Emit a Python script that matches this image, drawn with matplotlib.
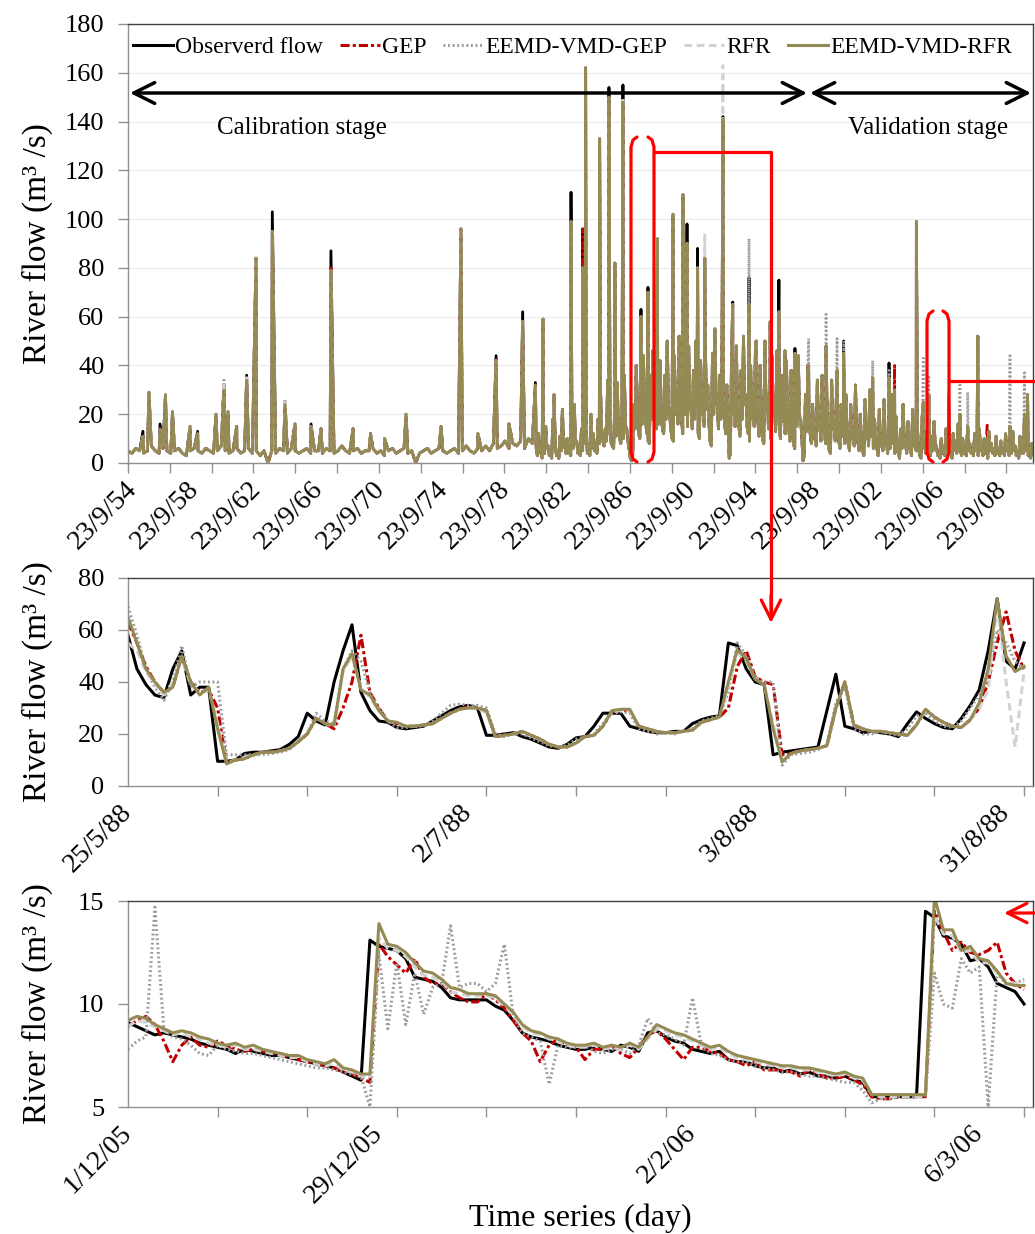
import numpy as np
import matplotlib
matplotlib.use("Agg")
import matplotlib.pyplot as plt

plt.rcParams['font.family'] = ['Liberation Serif', 'DejaVu Serif']

# ---------------------------------------------------------------- DATA
series_names = ['Observerd flow', 'GEP', 'EEMD-VMD-GEP', 'RFR', 'EEMD-VMD-RFR']

# --- top panel (whole record); x = years since 23/9/54
top_tick_labels = ['23/9/54', '23/9/58', '23/9/62', '23/9/66', '23/9/70', '23/9/74',
                   '23/9/78', '23/9/82', '23/9/86', '23/9/90', '23/9/94', '23/9/98',
                   '23/9/02', '23/9/06', '23/9/08']
# quiet period, quarter-year samples of the common baseline
quiet_flow = [5, 4, 6, 5, 4, 5, 7, 5, 4, 6,
              5, 4, 5, 6, 4, 3, 5, 6, 5, 4,
              6, 5, 4, 5, 7, 5, 4, 5, 6, 4,
              5, 6, 4, 5, 3, 5, 0, 5, 4, 6,
              5, 4, 6, 5, 4, 5, 6, 4, 5, 5,
              4, 6, 5, 4, 5, 7, 5, 4, 5, 6,
              4, 5, 5, 6, 4, 5, 3, 5, 6, 4,
              5, 6, 4, 5, 0, 4, 5, 6, 4, 5,
              6, 5, 4, 5, 6, 4, 5, 7, 5, 4,
              6, 5, 7, 5, 8, 6, 7, 9, 6, 8,
              7, 9, 6, 10, 8]
# busy period (1981-2012), dense samples of the common band
busy_flow = [6, 3, 12, 5, 4, 2, 9, 4, 15, 6, 7, 3, 5, 2, 18, 6, 8, 3, 4, 2, 11, 5, 22, 7, 7, 4,
             10, 4, 5, 3, 16, 6, 24, 8, 9, 4, 6, 3, 14, 5, 27, 8, 11, 4, 5, 3, 20, 6, 12, 5, 8, 4,
             18, 8, 30, 12, 9, 7, 14, 9, 34, 14, 12, 8, 7, 6, 25, 11, 33, 14, 10, 8, 22, 10, 36, 15, 14, 9,
             6, 2, 1, 3, 24, 14, 40, 20, 12, 10, 30, 16, 44, 22, 16, 12, 9, 8, 36, 18, 46, 22, 20, 14, 28, 16,
             42, 20, 14, 12, 36, 18, 50, 24, 20, 14, 10, 9, 44, 20, 30, 16, 52, 24, 18, 12, 40, 20, 26, 15, 48, 22,
             22, 14, 38, 18, 50, 24, 12, 10, 42, 20, 26, 15, 48, 22, 32, 16, 9, 7, 45, 20, 55, 25, 24, 14, 36, 18,
             50, 22, 18, 12, 32, 16, 2, 4, 44, 20, 26, 15, 48, 22, 16, 11, 38, 18, 52, 24, 28, 15, 12, 9, 40, 18,
             30, 15, 46, 21, 18, 11, 40, 19, 10, 8, 50, 22, 28, 14, 14, 10, 44, 20, 24, 13, 46, 21, 16, 10, 36, 17,
             20, 12, 42, 19, 14, 9, 38, 17, 8, 6, 32, 15, 44, 19, 18, 10, 1, 3, 28, 13, 40, 17, 12, 8, 24, 12,
             10, 7, 34, 14, 16, 9, 36, 15, 12, 8, 26, 12, 5, 4, 34, 14, 18, 9, 28, 12, 9, 6, 24, 11, 14, 8,
             28, 11, 8, 5, 24, 10, 14, 7, 32, 12, 9, 5, 20, 9, 5, 3, 26, 10, 16, 7, 30, 11, 11, 6, 18, 8,
             6, 3, 22, 7, 11, 5, 26, 8, 8, 4, 17, 6, 28, 8, 9, 4, 19, 7, 4, 2, 14, 6, 24, 7, 8, 4,
             17, 6, 6, 3, 22, 7, 10, 5, 14, 6, 3, 2, 19, 6, 8, 4, 13, 5, 5, 3, 11, 5, 17, 6, 7, 3,
             3, 2, 10, 4, 6, 3, 14, 5, 8, 4, 4, 2, 12, 5, 9, 4, 16, 5, 6, 3, 10, 4, 5, 3, 13, 5,
             8, 4, 5, 3, 12, 5, 7, 3, 14, 5, 6, 3, 10, 4, 4, 2, 13, 5, 8, 4, 6, 3, 11, 4, 5, 3,
             9, 4, 6, 3, 12, 5, 5, 3, 10, 4, 13, 5, 7, 3, 4, 2, 11, 4, 8, 4, 12, 5, 6, 3, 3, 2, 8, 4]
# flood peaks: time and value per series
spike_t = [0.96, 1.35, 2.06, 2.41, 2.86, 3.99, 4.48, 5.66, 6.17, 6.43, 6.99, 7.63, 8.23,
           9.28, 10.10, 10.74, 11.77, 12.41, 13.05, 14.47, 15.60, 16.50, 17.88, 20.13,
           21.41, 22.50, 23.67, 24.50, 25.38, 26.20, 26.69, 27.40, 28.49, 29.24, 29.43,
           30.33, 30.93, 31.31, 31.83, 32.99, 33.44, 34.05, 35.05, 35.69, 35.95, 36.63,
           37.09, 38.26, 38.89, 39.94, 40.40, 41.30, 41.86, 42.25, 42.89, 43.77, 44.89,
           45.60, 46.02, 47.89, 48.94, 49.30, 50.70, 51.15, 51.50, 52.77, 53.50, 54.00,
           54.65, 55.25, 56.72, 57.65, 57.85]
spike_obs = [13, 29, 16, 28, 21, 15, 13, 20, 32, 21, 15, 36, 84,
             103, 25, 16, 16, 14, 87, 14, 12, 10, 20, 15,
             96, 12, 44, 16, 62, 33, 59, 28, 111, 96, 162,
             133, 154, 82, 155, 63, 72, 92, 102, 110, 98, 88,
             84, 142, 66, 76, 50, 58, 75, 46, 47, 40, 48,
             38, 50, 35, 41, 30, 99, 25, 28, 29, 20, 15,
             52, 10, 15, 20, 28]
spike_gep = [11, 29, 14, 27, 20, 15, 12, 20, 33, 21, 15, 35, 84,
             95, 25, 16, 15, 14, 80, 14, 12, 10, 20, 15,
             96, 12, 43, 16, 58, 32, 59, 28, 99, 96, 162,
             133, 150, 82, 148, 60, 70, 92, 102, 110, 90, 80,
             84, 141, 65, 65, 50, 58, 62, 46, 45, 40, 48,
             38, 45, 35, 35, 40, 99, 25, 28, 29, 20, 15,
             52, 16, 15, 20, 28]
spike_eg = [11, 29, 14, 28, 21, 15, 12, 20, 34, 21, 15, 35, 84,
            95, 26, 16, 15, 14, 79, 14, 12, 10, 20, 15,
            96, 12, 42, 16, 58, 32, 59, 28, 99, 80, 162,
            133, 150, 82, 148, 60, 70, 92, 102, 110, 90, 80,
            84, 141, 65, 92, 50, 58, 62, 46, 45, 51, 61,
            51, 50, 42, 38, 30, 99, 43, 36, 29, 32, 29,
            52, 10, 44, 37, 28]
spike_rfr = [11, 29, 14, 28, 21, 15, 12, 20, 33, 21, 15, 35, 84,
             95, 26, 16, 15, 14, 79, 14, 12, 10, 20, 15,
             96, 12, 42, 16, 58, 32, 59, 28, 99, 80, 162,
             133, 150, 82, 150, 60, 70, 92, 102, 110, 90, 80,
             94, 163, 65, 65, 50, 58, 62, 46, 45, 40, 48,
             38, 45, 35, 35, 30, 99, 25, 28, 29, 20, 15,
             52, 10, 15, 20, 28]
spike_er = [11, 29, 14, 28, 21, 15, 12, 20, 30, 21, 15, 34, 84,
            95, 24, 16, 15, 14, 79, 14, 12, 10, 20, 15,
            96, 12, 42, 16, 58, 32, 59, 28, 99, 80, 162,
            133, 150, 82, 148, 60, 70, 92, 102, 110, 90, 80,
            84, 141, 65, 65, 50, 58, 62, 46, 45, 40, 48,
            38, 45, 35, 35, 30, 99, 25, 28, 26, 20, 15,
            52, 10, 15, 20, 28]

# --- middle panel: 25/5/88 - 2/9/88 (day index)
mid_tick_days = [0, 38, 70, 98]
mid_tick_labels = ['25/5/88', '2/7/88', '3/8/88', '31/8/88']
mid_obs = [58, 45, 39, 35, 34, 45, 52, 35, 38, 38, 9.5, 9.5, 10, 12.5, 13, 13, 13.5, 14, 16, 19,
           28, 25, 23.5, 40, 52, 62, 36, 29, 25, 24.5, 22.5, 22, 22.5, 23, 25, 27, 29, 30.5, 31, 30,
           19.5, 19.5, 20, 20.5, 19, 18, 16.5, 15, 14.5, 16, 18.5, 19, 23, 28, 28, 28, 23, 22, 21, 20.5,
           20.5, 21, 21, 24, 25.5, 26.5, 27, 55, 54, 45, 40, 39, 12, 13, 13.5, 14, 14.5, 15, 29, 43,
           23, 22, 20.5, 21, 20.5, 20, 19, 24, 28.5, 26, 24, 22.5, 22, 26, 31, 37, 52, 72, 48, 45, 55]
mid_gep = [63, 55, 46, 40, 36, 38, 50, 40, 36, 37, 30, 9, 10, 10.5, 12, 13, 13, 13.5, 14.5, 17,
           20, 26, 24, 22, 30, 40, 58, 36, 30, 25, 24, 23, 23, 23.5, 24, 26, 28, 29.5, 30.5, 30,
           29, 19, 19.5, 20, 21, 19.5, 18, 16, 15, 15, 16.5, 19, 19.5, 23, 28.5, 29, 29, 23, 22, 21,
           20.5, 20.5, 21, 21.5, 24.5, 25.5, 26.5, 30, 46, 52, 42, 40, 39, 12, 12.5, 13.5, 14, 14.5, 15.5, 30,
           40, 23.5, 22, 21, 21, 20.5, 20, 19.5, 23.5, 29.5, 26.5, 24.5, 23, 22.5, 25.5, 30, 40, 55, 67, 52, 45]
mid_eg = [69, 58, 45, 38, 33, 40, 54, 38, 40, 40, 40, 12, 12, 12, 12, 12, 12.5, 13, 14, 17,
          20, 28, 25, 24, 45, 52, 48, 36, 30, 25, 22.5, 22.5, 23, 23, 25, 28, 31, 31.5, 31, 31,
          30, 20, 19, 20, 20, 18.5, 17, 15.5, 15, 15.5, 18, 19, 20, 24, 28, 28.5, 28, 22, 21, 20,
          20.5, 20, 21, 22, 25, 26, 27, 36, 55, 50, 42, 40, 40, 8, 12, 12.5, 13, 14, 16, 32,
          38, 22, 20, 20, 21, 20, 19.5, 22, 27, 28, 25, 23, 22.5, 25, 30, 35, 42, 60, 55, 48, 45]
mid_rfr = [55, 52, 44, 39, 35, 40, 49, 39, 36, 37, 24, 9, 10, 11, 12, 13, 13, 13.5, 14.5, 17,
           21, 26, 24, 23, 44, 50, 38, 34, 29, 25, 24, 23, 23, 23.5, 24, 26, 28, 29.5, 30, 30,
           28, 19, 19.5, 20, 21, 19.5, 18, 16, 15, 15, 16.5, 19, 19.5, 23, 28.5, 29, 29, 23, 22, 21,
           20.5, 20.5, 21, 21.5, 24.5, 25.5, 26.5, 38, 51, 48, 41, 39, 24, 9.5, 12.5, 13.5, 14, 14.5, 15.5, 30,
           39, 23.5, 22, 21, 21, 20.5, 20, 19.5, 23.5, 29, 26.5, 24.5, 23, 22.5, 25.5, 30, 37, 70, 40, 15, 44]
mid_er = [65, 55, 45, 40, 36, 38, 50, 40, 35, 38, 22, 8.5, 10, 10.5, 12, 13, 13, 13.5, 14.5, 17,
          20, 26, 24, 23.5, 45, 51, 37, 35, 29, 25, 24.5, 23, 23, 23.5, 24, 26, 28, 29.5, 30, 30,
          29, 19, 19.5, 20, 21, 19.5, 18, 16, 15, 15, 16.5, 19, 19.5, 23, 29, 29.5, 29.5, 23, 22, 21,
          20.5, 20.5, 21, 21.5, 24.5, 25.5, 26.5, 40, 52.5, 49, 41, 39, 22, 9.3, 12.5, 13.5, 14, 14.5, 15.5, 30,
          40, 23.5, 22, 21, 21, 20.5, 20, 19.5, 23.5, 29.5, 26.5, 24.5, 23, 22.5, 25.5, 32, 45, 72, 50, 44, 46]

# --- bottom panel: 1/12/05 - 11/3/06 (day index)
bot_tick_days = [0, 28, 63, 95]
bot_tick_labels = ['1/12/05', '29/12/05', '2/2/06', '6/3/06']
bot_obs = [9.1, 8.9, 8.7, 8.5, 8.6, 8.5, 8.4, 8.3, 8.1, 8.0, 7.9, 7.8, 7.6, 7.8, 7.7, 7.6, 7.5, 7.5, 7.4, 7.3,
           7.2, 7.1, 7.0, 6.9, 6.7, 6.5, 6.3, 13.1, 12.8, 12.7, 12.6, 12.2, 11.3, 11.2, 11.1, 10.8, 10.3, 10.2, 10.2, 10.2,
           10.2, 9.9, 9.7, 9.2, 8.6, 8.4, 8.3, 8.2, 8.0, 7.9, 7.8, 7.8, 7.9, 7.8, 7.7, 8.0, 7.9, 7.7, 8.6, 8.7,
           8.4, 8.2, 8.1, 7.8, 7.7, 7.6, 7.7, 7.3, 7.2, 7.2, 7.0, 6.9, 6.9, 6.7, 6.8, 6.6, 6.7, 6.5, 6.5, 6.4,
           6.5, 6.3, 6.2, 5.5, 5.5, 5.5, 5.5, 5.5, 5.5, 14.5, 14.2, 13.3, 13.2, 12.9, 12.1, 12.2, 11.8, 11.0, 10.8, 10.6, 10.0]
bot_gep = [8.9, 9.2, 9.4, 9.0, 8.2, 7.2, 8.0, 8.4, 8.0, 7.9, 8.2, 8.0, 7.8, 7.7, 7.8, 7.7, 7.6, 7.6, 7.4, 7.3,
           7.2, 7.1, 7.0, 6.9, 6.7, 6.6, 6.4, 6.2, 12.9, 12.3, 11.9, 11.5, 12.2, 11.3, 11.0, 11.0, 10.6, 10.3, 10.1, 10.1,
           10.5, 10.2, 9.8, 9.2, 8.6, 8.2, 7.2, 8.0, 8.3, 8.0, 7.9, 7.3, 7.8, 7.8, 8.0, 7.6, 7.4, 7.9, 8.5, 8.7,
           8.3, 7.8, 7.3, 7.9, 7.9, 7.7, 7.6, 7.3, 7.2, 7.0, 7.2, 6.8, 6.8, 6.8, 6.7, 6.5, 6.8, 6.6, 6.4, 6.4,
           6.5, 6.3, 6.1, 5.5, 5.4, 5.4, 5.5, 5.5, 5.5, 5.5, 14.5, 13.5, 12.6, 13.0, 12.5, 12.4, 12.6, 13.0, 11.5, 11.0, 10.7]
bot_eg = [7.8, 8.2, 8.4, 14.7, 8.8, 8.4, 8.3, 8.0, 7.6, 7.5, 8.0, 7.8, 7.7, 7.6, 7.6, 7.5, 7.4, 7.3, 7.2, 7.1,
          7.0, 6.9, 6.9, 6.8, 6.7, 6.6, 6.5, 5.0, 12.4, 8.8, 12.0, 9.0, 11.5, 9.5, 10.8, 11.0, 13.8, 10.8, 11.0, 11.0,
          10.6, 11.0, 12.9, 9.4, 8.6, 8.4, 8.2, 6.1, 8.0, 7.9, 7.9, 8.0, 7.7, 7.6, 7.8, 7.8, 7.6, 8.0, 9.3, 8.6,
          8.5, 8.3, 8.0, 10.3, 8.0, 7.6, 7.5, 7.3, 7.2, 7.2, 7.0, 6.9, 6.8, 6.7, 6.7, 6.6, 6.5, 6.5, 6.4, 6.3,
          6.2, 6.2, 5.8, 5.2, 5.4, 5.4, 5.5, 5.5, 5.5, 5.5, 11.5, 10.0, 9.8, 12.2, 11.5, 11.8, 5.0, 11.5, 11.0, 11.0, 11.2]
bot_rfr = [8.9, 9.2, 9.1, 8.9, 8.7, 8.5, 8.6, 8.4, 8.3, 8.1, 8.0, 7.9, 8.0, 7.8, 7.8, 7.7, 7.6, 7.5, 7.4, 7.4,
           7.2, 7.1, 7.0, 7.1, 6.8, 6.7, 6.5, 6.4, 13.2, 12.7, 12.6, 12.3, 11.8, 11.4, 11.3, 11.1, 10.6, 10.5, 10.4, 10.4,
           10.4, 10.3, 9.9, 9.5, 8.9, 8.6, 8.5, 8.3, 8.2, 8.0, 7.9, 7.9, 8.0, 7.8, 7.9, 7.8, 8.0, 7.8, 8.3, 8.8,
           8.7, 8.5, 8.4, 8.2, 8.0, 7.8, 7.9, 7.6, 7.4, 7.3, 7.2, 7.1, 7.0, 6.9, 6.9, 6.8, 6.8, 6.7, 6.6, 6.5,
           6.6, 6.4, 6.3, 5.6, 5.5, 5.5, 5.5, 5.5, 5.5, 5.5, 14.3, 13.4, 13.3, 12.5, 12.6, 12.0, 12.0, 11.5, 11.1, 11.0, 11.1]
bot_er = [9.2, 9.4, 9.3, 9.0, 8.8, 8.6, 8.7, 8.6, 8.4, 8.3, 8.1, 8.0, 8.1, 7.9, 8.0, 7.8, 7.7, 7.6, 7.5, 7.5,
          7.3, 7.2, 7.1, 7.3, 6.9, 6.8, 6.6, 6.6, 13.9, 12.9, 12.8, 12.5, 12.0, 11.6, 11.5, 11.2, 10.8, 10.7, 10.5, 10.5,
          10.5, 10.4, 10.0, 9.6, 9.0, 8.7, 8.6, 8.4, 8.3, 8.1, 8.0, 8.0, 8.1, 7.9, 8.0, 7.9, 8.1, 7.9, 8.4, 9.0,
          8.8, 8.6, 8.5, 8.3, 8.1, 7.9, 8.0, 7.7, 7.5, 7.4, 7.3, 7.2, 7.1, 7.0, 7.0, 6.9, 6.9, 6.8, 6.7, 6.6,
          6.7, 6.5, 6.4, 5.6, 5.6, 5.6, 5.6, 5.6, 5.6, 5.6, 15.2, 13.6, 13.6, 12.6, 12.8, 12.2, 12.1, 11.6, 11.0, 10.9, 10.9]

# ---------------------------------------------------------------- STYLE
colors = ['#000000', '#c00000', '#9a9a9a', '#d2d2d2', '#948a54']
dash_styles = [None, (3, 1, 1, 1), (0.6, 0.9), (2.5, 1.5), None]
GRAY = '#909090'
DARK = '#404040'

W, H = 1035, 1234
fig = plt.figure(figsize=(W / 100, H / 100), dpi=100)


def add_ax(left, top, right, bottom):
    return fig.add_axes([left / W, 1 - bottom / H, (right - left) / W, (bottom - top) / H])


def draw(ax, x, ys, lw):
    lines = []
    for y, c, d, name in zip(ys, colors, dash_styles, series_names):
        kw = dict(color=c, lw=lw, label=name, solid_joinstyle='round')
        if d is not None:
            kw['dashes'] = d
        ln, = ax.plot(x, y, **kw)
        lines.append(ln)
    return lines


def frame(ax):
    for s in ['left', 'bottom']:
        ax.spines[s].set_color(GRAY)
        ax.spines[s].set_linewidth(1.0)
    for s in ['top', 'right']:
        ax.spines[s].set_color(DARK)
        ax.spines[s].set_linewidth(1.0)
    ax.tick_params(axis='y', which='major', direction='out', length=7, width=1,
                   color=GRAY, labelsize=19, pad=10)
    ax.tick_params(axis='x', which='major', length=0, labelsize=20, pad=16)
    ax.tick_params(axis='x', which='minor', direction='out', length=7, width=1, color=GRAY)
    for lab in ax.get_xticklabels():
        lab.set_rotation(45)
        lab.set_ha('right')
        lab.set_va('center')
        lab.set_rotation_mode('anchor')
    ax.set_ylabel('River flow (m³ /s)', fontsize=24)
    ax.yaxis.set_label_coords(-0.083, 0.5)


# ---- top panel
ax1 = add_ax(128, 24, 1033, 463)
quiet_t = 0.25 * np.arange(len(quiet_flow))
busy_t = np.linspace(26.25, 58.2, len(busy_flow))
base_t = np.concatenate([quiet_t, busy_t])
base_v = np.array(quiet_flow + busy_flow, dtype=float)
all_t = np.concatenate([base_t, np.array(spike_t)])
order = np.argsort(all_t, kind='stable')
top_x = all_t[order]
top_ys = [np.concatenate([base_v, np.array(sp, float)])[order]
          for sp in (spike_obs, spike_gep, spike_eg, spike_rfr, spike_er)]
top_lines = draw(ax1, top_x, top_ys, 2.0)
ax1.set_xlim(0, 58.2)
ax1.set_ylim(0, 180)
ax1.set_yticks(np.arange(0, 181, 20))
ax1.grid(axis='y', color='#ebebeb', lw=0.8)
ax1.set_axisbelow(True)
ax1.set_xticks(0.3 + 4 * np.arange(len(top_tick_labels)))
ax1.set_xticklabels(top_tick_labels)
ax1.set_xticks(2.69 * np.arange(22), minor=True)
frame(ax1)
leg = ax1.legend(handles=top_lines, loc='upper left', bbox_to_anchor=(0.0, 0.982),
                 ncol=5, frameon=False, fontsize=17, handlelength=1.7,
                 handletextpad=0.1, columnspacing=0.7, borderpad=0.1,
                 borderaxespad=0.1)
for h in leg.get_lines():
    h.set_linewidth(2.2)

# ---- middle panel
ax2 = add_ax(128, 578, 1033, 786)
mid_x = np.arange(len(mid_obs))
draw(ax2, mid_x, [mid_obs, mid_gep, mid_eg, mid_rfr, mid_er], 2.2)
ax2.set_xlim(0, 101)
ax2.set_ylim(0, 80)
ax2.set_yticks(np.arange(0, 81, 20))
ax2.set_xticks(mid_tick_days)
ax2.set_xticklabels(mid_tick_labels)
ax2.set_xticks(np.arange(0, 101, 10), minor=True)
frame(ax2)

# ---- bottom panel
ax3 = add_ax(128, 901, 1033, 1107)
bot_x = np.arange(len(bot_obs))
draw(ax3, bot_x, [bot_obs, bot_gep, bot_eg, bot_rfr, bot_er], 2.2)
ax3.set_xlim(0, 101)
ax3.set_ylim(5, 15)
ax3.set_yticks([5, 10, 15])
ax3.set_xticks(bot_tick_days)
ax3.set_xticklabels(bot_tick_labels)
ax3.set_xticks(np.arange(0, 101, 10), minor=True)
frame(ax3)

fig.text(580 / W, 1 - 1218 / H, 'Time series (day)', ha='center', va='center', fontsize=23)

# ---- annotation overlay in pixel space
ov = fig.add_axes([0, 0, 1, 1], zorder=10)
ov.set_xlim(0, W)
ov.set_ylim(H, 0)
ov.axis('off')
ov.patch.set_alpha(0)

arrow_kw = dict(arrowstyle='<->,head_length=0.6,head_width=0.3', lw=2.5, color='black',
                mutation_scale=25, shrinkA=0, shrinkB=0)
ov.annotate('', xy=(130, 93), xytext=(807, 93), arrowprops=arrow_kw)
ov.annotate('', xy=(810, 93), xytext=(1031, 93), arrowprops=arrow_kw)
ov.text(302, 128, 'Calibration stage', ha='center', va='center', fontsize=18)
ov.text(928, 128, 'Validation stage', ha='center', va='center', fontsize=18)


def bracket(x, y0, y1, d):
    xs = [x + d * 6, x + d * 2, x, x, x + d * 2, x + d * 6]
    ys = [y0, y0 + 3, y0 + 10, y1 - 10, y1 - 3, y1]
    ov.plot(xs, ys, color='red', lw=2.3, solid_capstyle='round', solid_joinstyle='round')


bracket(631, 137, 462, 1)
bracket(654, 137, 462, -1)
bracket(927, 311, 462, 1)
bracket(949, 311, 462, -1)
ov.plot([654, 771, 771], [152, 152, 615], color='red', lw=2.3)
ov.plot([949, 1035], [381, 381], color='red', lw=2.3)
red_kw = dict(arrowstyle='->,head_length=0.7,head_width=0.35', lw=2.3, color='red',
              mutation_scale=20, shrinkA=0, shrinkB=0)
ov.annotate('', xy=(771, 623), xytext=(771, 595), arrowprops=red_kw)
ov.annotate('', xy=(1004, 913), xytext=(1035, 913), arrowprops=red_kw)

fig.savefig('out.png', dpi=100)
